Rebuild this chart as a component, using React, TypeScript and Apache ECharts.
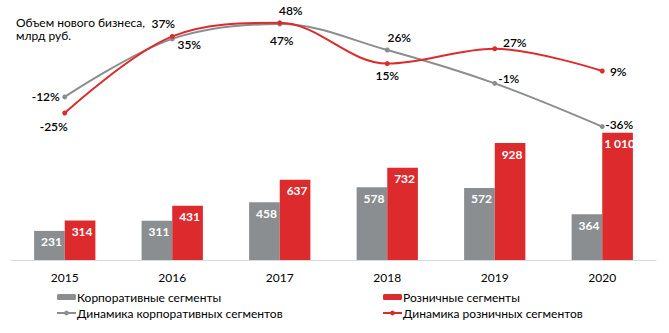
import React, { useEffect, useRef } from "react";
import * as echarts from "echarts";

const years = ["2015", "2016", "2017", "2018", "2019", "2020"];
const corpVolume = [231, 311, 458, 578, 572, 364];
const retailVolume = [314, 431, 637, 732, 928, 1010];
const corpGrowth = [-12, 35, 47, 26, -1, -36];
const retailGrowth = [-25, 37, 48, 15, 27, 9];
const titleLines = ["Объем нового бизнеса,", "млрд руб."];

const corpLabelOffsets = [[-19, 0], [17, 6], [2, 16], [12, -13], [14, -5], [17, -2]];
const retailLabelOffsets = [[-11, 13], [-9, -13], [11, -12], [0, 12], [20, -6], [16, 0]];

const FONT = "Lato, 'Liberation Sans', sans-serif";
const GRAY = "#8b8e91";
const RED = "#dd2a2c";

const fmtNum = (v: number) => (v >= 1000 ? `${Math.floor(v / 1000)} ${String(v % 1000).padStart(3, "0")}` : String(v));

export default function App() {
  const ref = useRef<HTMLDivElement>(null);
  useEffect(() => {
    document.body.style.margin = "0";
    const chart = echarts.init(ref.current!, null, { renderer: "svg" });
    const lineLabel = (offsets: number[][]) => (v: number, i: number) => ({
      value: v,
      label: {
        show: true,
        position: "inside",
        offset: offsets[i],
        formatter: `${v}%`,
        color: "#000",
        fontSize: 12,
        fontWeight: 600,
        fontFamily: FONT,
      },
    });
    const barLabel = {
      show: true,
      position: "insideTop",
      distance: 5,
      offset: [2, 0],
      color: "#fff",
      fontWeight: "bold",
      fontSize: 12,
      fontFamily: FONT,
      formatter: (p: any) => fmtNum(p.value),
    };
    const legendCommon = {
      orient: "vertical",
      top: 291,
      itemWidth: 19,
      itemHeight: 6,
      itemGap: 4,
      padding: 0,
      textStyle: { fontSize: 12, color: "#000", fontFamily: FONT, padding: [0, 0, 0, -4] },
    };
    chart.setOption({
      animation: false,
      textStyle: { fontFamily: FONT },
      graphic: titleLines.map((t, i) => ({
        type: "text",
        left: 16,
        top: 16 + i * 13.5,
        style: { text: t, fontSize: 12, fill: "#000", fontFamily: FONT },
      })),
      grid: { left: 11, right: 13, top: 8, bottom: 73, containLabel: false },
      legend: [
        { ...legendCommon, left: 56, data: ["Корпоративные сегменты", "Динамика корпоративных сегментов"] },
        { ...legendCommon, left: 382, data: ["Розничные сегменты", "Динамика розничных сегментов"] },
      ],
      xAxis: {
        type: "category",
        data: years,
        axisTick: { show: false },
        axisLine: { lineStyle: { color: "#d9d9d9" } },
        axisLabel: { color: "#000", fontSize: 12, margin: 11, fontFamily: FONT },
      },
      yAxis: [
        { type: "value", min: 0, max: 2000, show: false },
        { type: "value", min: -144, max: 60, show: false },
      ],
      series: [
        {
          name: "Корпоративные сегменты",
          type: "bar",
          data: corpVolume,
          barGap: "0%",
          barCategoryGap: "43%",
          itemStyle: { color: GRAY },
          label: barLabel,
        },
        {
          name: "Розничные сегменты",
          type: "bar",
          data: retailVolume,
          barGap: "0%",
          barCategoryGap: "43%",
          itemStyle: { color: RED },
          label: barLabel,
        },
        {
          name: "Динамика корпоративных сегментов",
          type: "line",
          yAxisIndex: 1,
          smooth: 0.35,
          symbol: "circle",
          symbolSize: 5,
          itemStyle: { color: GRAY },
          lineStyle: { color: GRAY, width: 2 },
          data: corpGrowth.map(lineLabel(corpLabelOffsets)),
        },
        {
          name: "Динамика розничных сегментов",
          type: "line",
          yAxisIndex: 1,
          smooth: 0.35,
          symbol: "circle",
          symbolSize: 5,
          itemStyle: { color: RED },
          lineStyle: { color: RED, width: 2 },
          data: retailGrowth.map(lineLabel(retailLabelOffsets)),
        },
      ],
    });
    return () => chart.dispose();
  }, []);
  return <div ref={ref} style={{ width: 669, height: 333 }} />;
}
